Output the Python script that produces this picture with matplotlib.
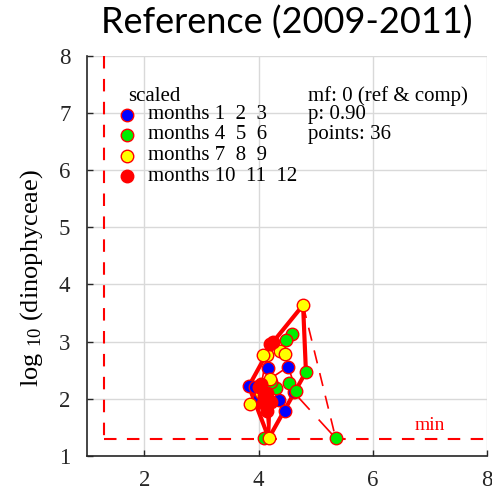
import matplotlib
matplotlib.use("Agg")
import matplotlib.pyplot as plt
import numpy as np

# seasonal points (log10 ref vs log10 comp)
blue_x = [3.83, 3.94, 4.17, 4.52, 4.62, 4.36, 4.46, 4.10, 4.00]
blue_y = [2.22, 2.21, 2.53, 2.56, 2.11, 1.98, 1.79, 2.12, 2.02]
green_x = [4.58, 4.48, 4.83, 4.54, 4.31, 4.66, 4.10, 5.35, 4.22]
green_y = [3.14, 3.03, 2.47, 2.27, 2.19, 2.14, 1.31, 1.31, 2.30]
yellow_x = [4.78, 4.37, 4.47, 4.14, 3.85, 4.18, 4.20, 4.05, 4.08]
yellow_y = [3.64, 2.83, 2.79, 2.76, 1.91, 1.31, 2.35, 2.10, 2.77]
red_x = [4.26, 4.05, 4.14, 4.08, 4.00, 4.10, 4.20, 4.15, 4.22]
red_y = [3.00, 2.25, 1.79, 1.92, 2.20, 2.05, 2.95, 2.10, 1.95]

season_labels = ["months 1  2  3", "months 4  5  6", "months 7  8  9", "months 10  11  12"]
season_colors = ["blue", "#00ee00", "yellow", "red"]

min_val = 1.3
p_level = 0.90
mf = 0

# hull (p = 0.90) through outer points
hull_x = [yellow_x[0], green_x[2], yellow_x[5], blue_x[0], red_x[0], yellow_x[0]]
hull_y = [yellow_y[0], green_y[2], yellow_y[5], blue_y[0], red_y[0], yellow_y[0]]
inner_x = [yellow_x[5], blue_x[2]]
inner_y = [yellow_y[5], blue_y[2]]

# thin connecting path
path_x = [red_x[0], red_x[6], yellow_x[3], red_x[1], red_x[7], blue_x[7], red_x[5],
          red_x[3], red_x[2], yellow_x[5], red_x[8], blue_x[5], green_x[4], red_x[4],
          yellow_x[6], blue_x[3], green_x[5], blue_x[4]]
path_y = [red_y[0], red_y[6], yellow_y[3], red_y[1], red_y[7], blue_y[7], red_y[5],
          red_y[3], red_y[2], yellow_y[5], red_y[8], blue_y[5], green_y[4], red_y[4],
          yellow_y[6], blue_y[3], green_y[5], blue_y[4]]

plt.rcParams["font.family"] = ["Liberation Serif", "DejaVu Serif"]
plt.rcParams["mathtext.fontset"] = "custom"
plt.rcParams["mathtext.rm"] = "Liberation Serif"
plt.rcParams["mathtext.it"] = "Liberation Serif:italic"

fig = plt.figure(figsize=(4.92, 4.95), dpi=100)
ax = fig.add_axes([0.177, 0.079, 0.813, 0.808])

ax.set_xlim(1, 8)
ax.set_ylim(1, 8)
ax.set_xticks([2, 4, 6, 8])
ax.set_yticks(range(1, 9))
ax.grid(True, color="#d9d9d9", lw=1.0, zorder=0)
ax.set_axisbelow(True)
for s in ["top", "right"]:
    ax.spines[s].set_visible(False)
for s in ["left", "bottom"]:
    ax.spines[s].set_color("#262626")
    ax.spines[s].set_linewidth(1.2)
ax.tick_params(direction="in", length=4, width=1.0, labelsize=16.5, colors="#262626")
ax.tick_params(axis="x", pad=10)
ax.tick_params(axis="y", pad=12)

# min lines
ax.plot([min_val, min_val], [8, min_val], color="red", lw=1.5, dashes=(6, 5), zorder=2)
ax.plot([min_val, 8], [min_val, min_val], color="red", lw=1.5, dashes=(6, 5), zorder=2)
ax.text(7.0, min_val + 0.08, "min", color="red", fontsize=14, ha="center", va="bottom")

# connecting lines
ax.plot(path_x, path_y, color="red", lw=1.2, zorder=3)
ax.plot([blue_x[4], green_x[7]], [blue_y[4], green_y[7]], color="red", lw=1.2,
        dashes=(14, 8), zorder=3)
ax.plot([yellow_x[0], green_x[7]], [yellow_y[0], green_y[7]], color="red", lw=1.2,
        dashes=(8, 6), zorder=3)
ax.plot(hull_x, hull_y, color="red", lw=3, zorder=3, solid_joinstyle="round")
ax.plot(inner_x, inner_y, color="red", lw=2.5, zorder=3)

for xs, ys, c in zip([blue_x, green_x, yellow_x, red_x],
                     [blue_y, green_y, yellow_y, red_y], season_colors):
    ax.plot(xs, ys, "o", ms=9, mfc=c, mec="red", mew=1.0, ls="none", zorder=4)

# legend-like annotations
ax.text(1.72, 7.29, "scaled", fontsize=15, ha="left", va="center")
leg_y = [6.97, 6.62, 6.25, 5.89]
for yy, lab, c in zip(leg_y, season_labels, season_colors):
    ax.plot([1.70], [yy], "o", ms=9, mfc=c, mec="red", mew=1.0, zorder=4, clip_on=False)
    ax.text(2.07, yy, lab, fontsize=15, ha="left", va="center")
info = ["mf: %d (ref & comp)" % mf, "p: %.2f" % p_level,
        "points: %d" % (len(blue_x) + len(green_x) + len(yellow_x) + len(red_x))]
for yy, t in zip([7.29, 6.97, 6.62], info):
    ax.text(4.86, yy, t, fontsize=15, ha="left", va="center")

ax.set_ylabel(r"log $_{10}$ (dinophyceae)", fontsize=19)
ax.yaxis.set_label_coords(-0.105, 0.445)

fig.text(0.583, 0.955, "Reference (2009-2011)", fontsize=26, family="Lato",
         ha="center", va="center")

fig.savefig("out.png", dpi=100)
